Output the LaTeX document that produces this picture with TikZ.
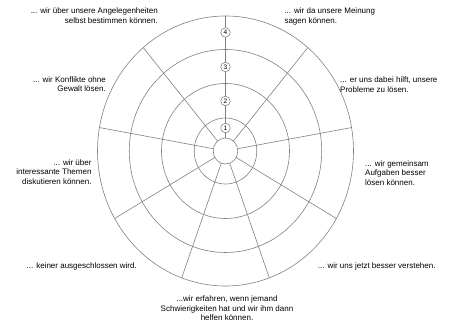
\documentclass[tikz,border=0pt]{standalone}
\usepackage{fontspec}
\setmainfont{Liberation Sans}
\begin{document}
\begin{tikzpicture}[x=1pt,y=1pt,
  ring/.style={draw=black!50, line width=0.6pt},
  spoke/.style={draw=black!50, line width=0.6pt},
  lvl/.style={circle, draw=black!55, fill=white, line width=0.5pt, minimum size=9.5pt, inner sep=0pt, font=\fontsize{6.5}{7}\selectfont},
  lbl/.style={inner sep=0pt, font=\fontsize{8}{9.5}\selectfont}
]
\useasboundingbox (0,0) rectangle (450,326);
% target
\begin{scope}[shift={(225.5,175)}, xscale=0.948]
  \foreach \r in {13,33,67.5,101.5,135} \draw[ring] (0,0) circle (\r);
  \foreach \a in {90,50,10,-30,-70,-110,-150,170,130} \draw[spoke] (\a:13) -- (\a:135);
  \node[lvl] (n1) at (90:23) {1};
  \node[lvl] (n2) at (90:50) {2};
  \node[lvl] (n3) at (90:84) {3};
  \node[lvl] (n4) at (90:118.5) {4};
\end{scope}
% labels
\node[lbl, align=right, anchor=north east] (t1) at (158,318) {... wir über unsere Angelegenheiten\\selbst bestimmen können.};
\node[lbl, align=left, anchor=north west] (t2) at (284.3,318) {... wir da unsere Meinung\\sagen können.};
\node[lbl, align=left, anchor=north west] (t3) at (340,249) {... er uns dabei hilft, unsere\\Probleme zu lösen.};
\node[lbl, align=left, anchor=north west] (t4) at (365,165.5) {... wir gemeinsam\\Aufgaben besser\\lösen können.};
\node[lbl, align=left, anchor=north west] (t5) at (317.7,63) {... wir uns jetzt besser verstehen.};
\node[lbl, align=center, anchor=north] (t6) at (227,30) {...wir erfahren, wenn jemand\\Schwierigkeiten hat und wir ihm dann\\helfen können.};
\node[lbl, align=right, anchor=north east] (t7) at (137,63) {... keiner ausgeschlossen wird.};
\node[lbl, align=right, anchor=north east] (t8) at (91.7,166.5) {... wir über\\interessante Themen\\diskutieren können.};
\node[lbl, align=right, anchor=north east] (t9) at (106,249.5) {... wir Konflikte ohne\\Gewalt lösen.};
\end{tikzpicture}
\end{document}
